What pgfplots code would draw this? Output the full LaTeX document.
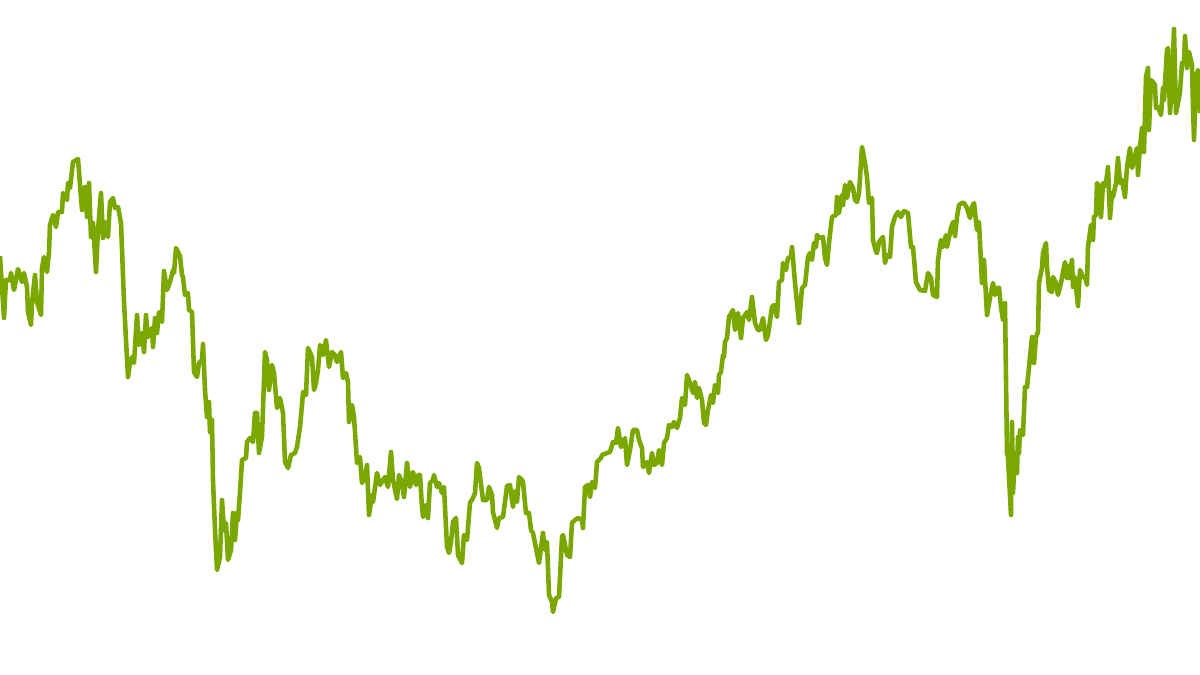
\documentclass[border=0pt]{standalone}
\usepackage{pgfplots}
\pgfplotsset{compat=1.18}
\definecolor{linegreen}{RGB}{122,168,0}

\begin{document}
\begin{tikzpicture}
  \useasboundingbox (0,0) rectangle (12cm,6.75cm);
  \begin{axis}[
      at={(0,0)}, anchor=south west,
      scale only axis,
      width=12cm, height=6.75cm,
      xmin=0, xmax=1200,
      ymin=0, ymax=675,
      y dir=reverse,
      hide axis]

    \addplot[linegreen, line width=1.3pt, line join=round, mark=none]
    coordinates {
      (0,256) (4,318) (6,280) (10,280) (11,273) (14,290) (18,269) (22,282)
      (24,273) (27,287) (28,312) (31,325) (32,303) (35,275) (37,302) (41,315)
      (42,268) (44,257) (47,272) (49,252) (50,225) (53,215) (56,227) (58,212)
      (62,212) (63,193) (67,200) (68,183) (70,188) (73,162) (78,159) (80,185)
      (82,210) (85,187) (87,217) (89,183) (91,237) (93,223) (96,272) (98,230)
      (101,193) (103,238) (105,222) (108,237) (110,202) (113,198) (115,208)
      (118,207) (121,223) (124,302) (128,377) (130,363) (132,357) (134,363)
      (137,315) (139,345) (142,333) (144,352) (146,315) (148,337) (152,328)
      (153,347) (155,318) (157,333) (159,312) (162,322) (164,271) (167,290)
      (170,282) (173,270) (174,273) (176,248) (180,256) (182,275) (183,277)
      (185,295) (188,293) (189,310) (192,312) (194,372) (197,377) (199,363)
      (202,360) (203,344) (205,390) (207,417) (209,402) (210,432) (212,420)
      (213,480) (215,530) (217,570) (220,557) (222,500) (224,530) (226,523)
      (228,560) (231,550) (233,513) (235,540) (237,513) (238,520) (240,493)
      (242,460) (246,458) (247,442) (250,438) (253,442) (255,413) (257,413)
      (259,453) (262,437) (265,352) (267,360) (269,390) (272,365) (274,373)
      (277,408) (280,398) (283,413) (285,462) (288,468) (291,455) (295,453)
      (297,447) (300,427) (302,405) (303,392) (306,395) (308,348) (312,357)
      (314,390) (316,383) (318,370) (320,345) (323,355) (326,340) (329,367)
      (332,352) (335,355) (337,362) (339,357) (341,352) (343,378) (346,373)
      (348,382) (349,422) (352,405) (354,417) (357,463) (360,457) (362,483)
      (365,477) (367,465) (369,515) (372,495) (373,502) (377,473) (380,485)
      (385,477) (388,487) (391,452) (393,480) (397,499) (399,475) (402,483)
      (404,497) (407,463) (410,487) (413,472) (416,485) (418,475) (420,475)
      (422,507) (423,517) (426,505) (428,518) (430,483) (433,480) (434,475)
      (437,487) (439,483) (442,493) (444,487) (447,547) (449,553) (451,542)
      (453,522) (456,518) (458,555) (462,563) (464,535) (467,540) (470,503)
      (473,498) (475,493) (477,463) (479,468) (483,500) (487,500) (489,487)
      (492,495) (493,512) (497,528) (499,518) (503,517) (505,502) (507,486)
      (510,485) (513,507) (515,491) (517,502) (519,477) (522,480) (523,482)
      (526,513) (529,513) (531,530) (533,533) (539,563) (543,533) (545,550)
      (547,542) (549,595) (552,602) (553,612) (556,598) (559,597) (562,537)
      (563,535) (567,555) (570,557) (572,523) (575,520) (578,518) (582,520)
      (583,528) (585,487) (588,485) (590,497) (592,482) (595,488) (597,462)
      (601,458) (602,455) (607,453) (610,452) (613,442) (616,443) (618,428)
      (621,447) (625,438) (627,465) (630,450) (633,430) (637,430) (639,440)
      (642,448) (643,467) (647,462) (649,473) (652,453) (654,465) (657,463)
      (659,450) (662,465) (664,443) (667,438) (669,425) (672,427) (674,422)
      (677,428) (680,418) (682,398) (685,405) (687,375) (690,383) (693,393)
      (695,382) (697,398) (699,388) (702,400) (704,423) (706,425) (708,410)
      (711,395) (713,403) (715,385) (718,393) (719,375) (721,372) (723,355)
      (724,357) (725,342) (727,338) (729,317) (733,310) (735,330) (738,313)
      (741,338) (743,318) (745,315) (747,312) (749,320) (752,297) (755,323)
      (758,330) (760,330) (763,318) (766,340) (768,335) (772,307) (774,305)
      (777,317) (779,282) (782,280) (783,263) (786,270) (788,258) (791,257)
      (792,247) (795,283) (799,323) (802,288) (805,285) (808,257) (810,253)
      (812,260) (814,243) (816,247) (817,235) (820,238) (823,237) (825,258)
      (827,265) (829,243) (832,217) (836,215) (837,197) (839,213) (842,195)
      (843,205) (845,185) (847,198) (850,182) (853,188) (855,200) (857,202)
      (859,193) (862,147) (865,163) (867,177) (869,203) (872,198) (873,240)
      (876,252) (877,253) (879,242) (882,238) (883,237) (885,263) (887,255)
      (890,257) (892,227) (895,217) (898,212) (901,217) (904,211) (908,213)
      (911,247) (913,247) (916,282) (920,290) (925,291) (928,273) (931,278)
      (933,295) (937,297) (938,260) (941,240) (943,247) (946,235) (947,247)
      (951,228) (953,222) (955,236) (957,217) (959,205) (962,203) (964,203)
      (967,208) (970,218) (972,207) (974,203) (977,230) (979,222) (982,283)
      (984,260) (987,315) (990,298) (993,283) (995,295) (997,288) (999,288)
      (1001,307) (1003,320) (1005,303) (1007,453) (1008,457) (1011,515)
      (1012,422) (1013,493) (1015,453) (1017,473) (1018,437) (1019,453)
      (1020,430) (1023,435) (1025,387) (1027,387) (1029,367) (1032,337)
      (1034,363) (1036,337) (1038,332) (1039,283) (1042,268) (1043,253)
      (1046,243) (1047,267) (1049,290) (1052,292) (1053,277) (1056,283)
      (1058,295) (1061,283) (1063,272) (1065,262) (1067,278) (1068,266)
      (1069,278) (1072,260) (1073,287) (1075,277) (1078,306) (1080,270)
      (1083,277) (1085,277) (1087,285) (1088,247) (1091,225) (1093,240)
      (1094,217) (1096,215) (1097,183) (1099,187) (1101,217) (1103,183)
      (1104,187) (1106,183) (1108,167) (1110,218) (1112,193) (1113,197)
      (1116,183) (1118,158) (1120,183) (1122,180) (1125,197) (1127,167)
      (1130,148) (1132,168) (1134,160) (1137,148) (1138,175) (1140,147)
      (1142,128) (1144,152) (1146,77) (1148,68) (1149,130) (1151,80)
      (1153,82) (1155,85) (1156,108) (1158,107) (1161,115) (1163,88)
      (1164,100) (1167,50) (1168,48) (1170,113) (1172,85) (1174,29)
      (1176,113) (1178,103) (1180,92) (1182,63) (1184,63) (1185,36)
      (1187,68) (1189,52) (1192,65) (1193,107) (1194,140) (1196,77)
      (1198,70) (1200,113)
    };

  \end{axis}
\end{tikzpicture}
\end{document}
